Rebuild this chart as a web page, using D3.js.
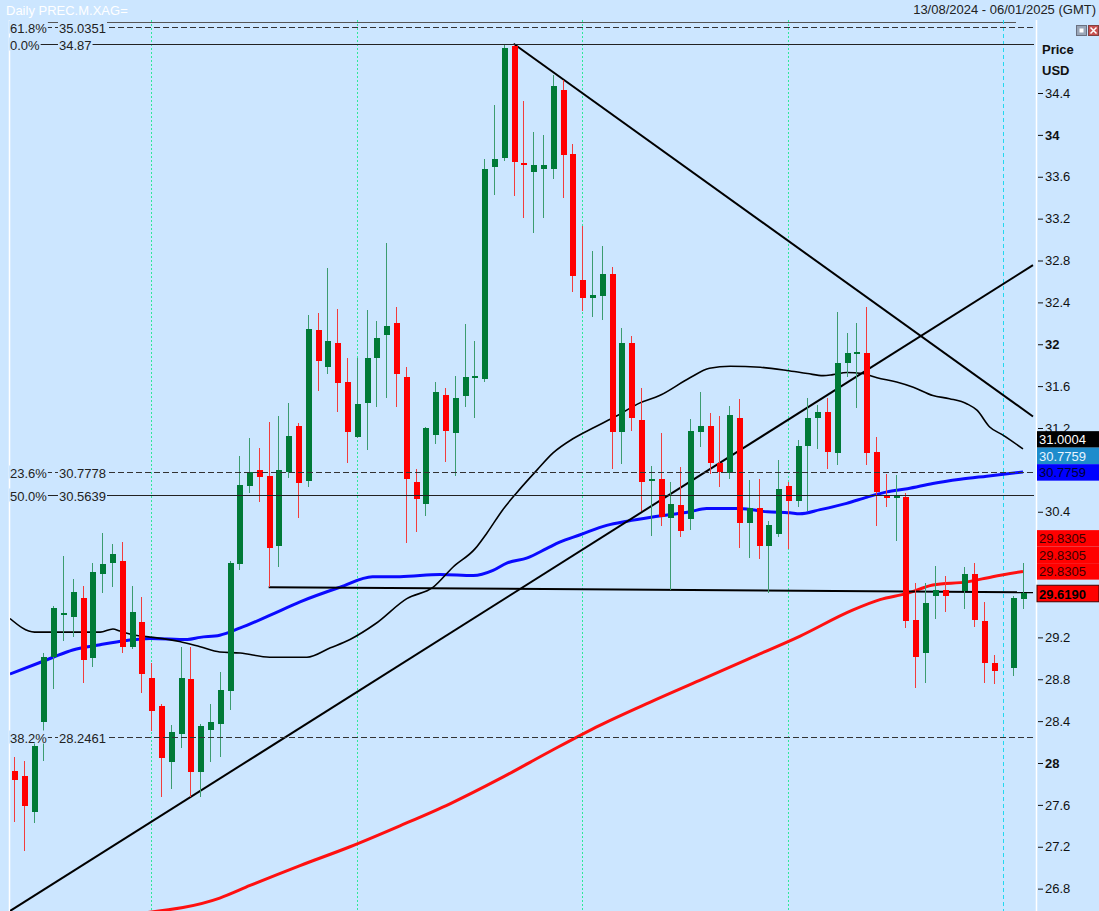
<!DOCTYPE html>
<html>
<head>
<meta charset="utf-8">
<script src="https://cdn.jsdelivr.net/npm/d3@7"></script>
<style>
  html, body { margin: 0; padding: 0; background: #cce6ff; }
  svg { display: block; font-family: "Liberation Sans", Arial, sans-serif; }
</style>
</head>
<body>
<div id="chart"></div>
<script>
// Daily silver (PREC.M.XAG=), one slot per weekday, null = no trading that day
var openPrices = [27.92, 27.88, 27.53, 28.39, 29.01, 29.41, 29.39, 29.58, 29.00, 29.81,
  29.91, 29.93, 29.11, 29.35, 28.81, 28.54, 28.01, 28.28, 28.80, 27.91,
  28.32, 28.37, 28.69, 29.90, 30.65, 30.80, 30.74, 30.07, 30.78, 31.22,
  30.69, 32.14, 31.78, 32.01, 31.64, 31.11, 31.44, 31.87, 32.09, 32.20,
  31.69, 30.68, 30.47, 31.13, 31.52, 31.15, 31.51, 31.68, 31.67, 33.69,
  33.78, 34.85, 33.73, 33.65, 33.67, 33.67, 34.43, 33.82, 32.61, 32.44,
  32.46, 32.67, 31.16, 32.01, 31.28, 30.69, 30.71, 30.34, 30.46, 30.33,
  31.16, 31.22, 30.87, 30.77, 31.30, 30.29, 30.44, 30.07, 30.19, 30.65,
  30.50, 31.03, 31.30, 31.35, 30.96, 31.82, 31.91, 31.92, 30.97, 30.55,
  30.53, 30.54, 29.37, 29.05, 29.60, 29.65, null, 29.64, 29.81, 29.36,
  28.96, null, 28.91, 29.57];
var highPrices = [28.06, 28.02, 28.22, 29.05, 29.50, 29.98, 29.76, 29.69, 29.91, 30.20,
  30.09, 30.11, 29.69, 29.59, 28.96, 28.56, 28.36, 29.11, 29.11, 28.37,
  28.56, 28.87, 29.93, 30.93, 31.10, 31.01, 31.26, 31.31, 31.44, 31.25,
  32.28, 32.30, 32.73, 32.34, 31.87, 31.87, 32.33, 32.22, 32.97, 32.36,
  31.78, 30.81, 31.21, 31.64, 31.58, 31.70, 32.19, 32.03, 33.77, 34.29,
  34.86, 34.87, 34.32, 34.03, 34.00, 34.57, 34.52, 33.91, 33.13, 32.89,
  32.94, 32.74, 32.16, 32.08, 31.58, 30.84, 31.15, 30.68, 30.83, 31.29,
  31.54, 31.34, 31.31, 31.41, 31.48, 30.70, 30.71, 30.31, 30.89, 30.68,
  31.09, 31.49, 31.42, 31.49, 32.31, 32.11, 32.20, 32.36, 31.11, 30.76,
  30.75, 30.58, 29.72, 29.72, 29.88, 29.79, null, 29.87, 29.91, 29.54,
  29.03, null, 29.60, 29.91];
var lowPrices = [27.44, 27.16, 27.43, 28.02, 28.71, 29.17, 29.20, 28.76, 28.92, 29.62,
  29.68, 29.05, 29.09, 28.67, 28.31, 27.68, 27.75, 28.14, 27.68, 27.68,
  28.01, 28.06, 28.51, 29.84, 30.58, 30.49, 29.68, 29.87, 30.72, 30.34,
  30.64, 31.55, 31.72, 31.35, 30.87, 31.10, 30.99, 31.40, 31.49, 31.40,
  30.10, 30.21, 30.36, 31.05, 30.88, 30.74, 31.40, 31.30, 31.64, 33.43,
  33.75, 33.42, 33.21, 33.06, 33.21, 33.58, 33.40, 32.50, 32.32, 32.26,
  32.23, 30.81, 30.86, 31.17, 30.41, 30.17, 30.26, 29.65, 30.16, 30.23,
  31.02, 30.76, 30.64, 30.71, 30.05, 29.96, 29.95, 29.62, 30.16, 30.04,
  30.45, 30.41, 31.00, 30.81, 30.85, 31.69, 31.39, 30.85, 30.26, 30.45,
  30.12, 29.29, 28.72, 28.76, 29.38, 29.44, null, 29.47, 29.30, 28.76,
  28.75, null, 28.83, 29.47];
var closePrices = [27.84, 27.59, 28.16, 29.01, 29.48, 29.43, 29.63, 28.98, 29.82, 29.90,
  30.00, 29.11, 29.44, 28.85, 28.50, 28.05, 28.30, 28.81, 27.91, 28.35,
  28.39, 28.70, 29.91, 30.66, 30.78, 30.73, 30.05, 30.80, 31.12, 30.67,
  32.15, 31.84, 32.03, 31.63, 31.16, 31.43, 31.87, 32.06, 32.17, 31.72,
  30.71, 30.52, 31.20, 31.54, 31.17, 31.49, 31.69, 31.70, 33.67, 33.77,
  34.83, 33.74, 33.71, 33.71, 33.71, 34.47, 33.81, 32.65, 32.44, 32.47,
  32.67, 31.16, 32.01, 31.30, 30.68, 30.71, 30.35, 30.47, 30.22, 31.17,
  31.22, 30.87, 30.78, 31.32, 30.29, 30.44, 30.07, 30.27, 30.62, 30.50,
  31.03, 31.30, 31.35, 30.97, 31.82, 31.92, 31.93, 30.96, 30.59, 30.53,
  30.55, 29.36, 29.01, 29.53, 29.65, 29.60, null, 29.81, 29.37, 28.96,
  28.88, null, 29.58, 29.62];

// moving averages, read as [slot, price]
var maBlack = [[-0.41, 29.38], [2.1, 29.25], [8.8, 29.25], [10.1, 29.28], [10.8, 29.26], [12.4, 29.22],
  [14.2, 29.20], [16.9, 29.16], [19, 29.11], [21, 29.06], [23.1, 29.05], [26.1, 29.01], [29.9, 29.01],
  [32.3, 29.10], [34.3, 29.18], [36.9, 29.33], [40.1, 29.57], [42.8, 29.68], [44.8, 29.87], [47.1, 30.05],
  [48.3, 30.20], [49.9, 30.42], [51.3, 30.58], [53.4, 30.80], [55, 30.96], [57.1, 31.10], [59.1, 31.20],
  [61.6, 31.32], [63.9, 31.44], [65.9, 31.51], [69, 31.68], [71, 31.77], [73.1, 31.79], [76.2, 31.78],
  [78.9, 31.75], [81, 31.72], [82.6, 31.70], [83.6, 31.71], [85, 31.73], [86.6, 31.72], [88.1, 31.68],
  [90.1, 31.64], [91.8, 31.59], [93.8, 31.51], [95.5, 31.48], [97.3, 31.43], [98.3, 31.37], [99.6, 31.21],
  [101, 31.13], [103, 31.00]];
var maBlue = [[-0.41, 28.85], [2.65, 28.96], [4, 29.01], [6, 29.08], [8.8, 29.13], [11.5, 29.17], [13.9, 29.19],
  [17.7, 29.18], [19, 29.20], [21, 29.22], [23.1, 29.29], [26.1, 29.41], [29.2, 29.54], [33.3, 29.68],
  [36.6, 29.78], [39.4, 29.78], [43.5, 29.80], [46.9, 29.79], [48.9, 29.84], [50.3, 29.91], [52.4, 29.96],
  [54.4, 30.05], [55.7, 30.11], [57.8, 30.18], [60.5, 30.27], [62.6, 30.31], [65.2, 30.35], [69, 30.40],
  [70.7, 30.43], [74.1, 30.43], [76.9, 30.40], [79.2, 30.39], [80.2, 30.38], [82.3, 30.42], [85, 30.48],
  [87.1, 30.54], [89.1, 30.59], [91.2, 30.62], [93.8, 30.67], [96.6, 30.71], [99.3, 30.74], [103, 30.78]];
var maRed = [[13.5, 26.57], [21, 26.71], [24.1, 26.83], [29.2, 27.02], [34.3, 27.20], [39.4, 27.40],
  [44.5, 27.61], [49.6, 27.85], [54.7, 28.11], [59.8, 28.36], [64.9, 28.58], [70, 28.79], [75.1, 29.00],
  [80.2, 29.21], [85.6, 29.46], [88.4, 29.56], [91.2, 29.62], [93.8, 29.70], [97.3, 29.73], [99.9, 29.78],
  [103, 29.83]];

// hand drawn lines, [slot, price] end points
var trendUp = [[-0.41, 26.586], [104.02, 32.756]];
var trendDown = [[51, 34.87], [104.02, 31.31]];
var supportLine = [[26, 29.68], [104.02, 29.63]];

// fibonacci levels
var fibLabels = ["61.8%", "0.0%", "23.6%", "50.0%", "38.2%"];
var fibValues = ["35.0351", "34.87", "30.7778", "30.5639", "28.2461"];

// month start slots (vertical grid)
var monthSlots = [14, 35, 58, 79, 101];

// price axis (30.8, 30 and 29.6 sit under the value boxes and are not shown)
var tickValues = [26.8, 27.2, 27.6, 28, 28.4, 28.8, 29.2, 30.4, 31.2, 31.6, 32, 32.4, 32.8, 33.2, 33.6, 34, 34.4];
var lastValues = [31.0004, 30.7759, 30.7759, 29.8305, 29.8305, 29.8305, 29.6190];

var titleText = "Daily PREC.M.XAG=";
var rangeText = "13/08/2024 - 06/01/2025 (GMT)";

// layout
var fullWidth = 1099;
var fullHeight = 911;
var plot = { left: 10, right: 1034, top: 20, bottom: 911 };
var bgColor = "#cce6ff";
var upColor = "#007a37", upWick = "#3c9c70";
var downColor = "#ff0000", downWick = "#f23c3c";

var xScale = d3.scaleLinear().domain([0, 103]).range([14, 1023]);
var yScale = d3.scaleLinear().domain([28, 34.4]).range([763, 93]);

var svg = d3.select("#chart").append("svg")
  .attr("width", fullWidth)
  .attr("height", fullHeight);

svg.append("rect").attr("width", fullWidth).attr("height", fullHeight).attr("fill", bgColor);

svg.append("defs").append("clipPath").attr("id", "plotclip")
  .append("rect")
  .attr("x", plot.left).attr("y", plot.top)
  .attr("width", plot.right - plot.left).attr("height", plot.bottom - plot.top);

// header
svg.append("text").attr("x", 6).attr("y", 15).attr("fill", "#ffffff")
  .style("font-size", "13px").text(titleText);
svg.append("text").attr("x", 1096).attr("y", 14).attr("fill", "#222")
  .attr("text-anchor", "end").style("font-size", "13px").text(rangeText);

// border lines
svg.append("line").attr("x1", plot.left - 0.5).attr("x2", plot.left - 0.5)
  .attr("y1", plot.top).attr("y2", plot.bottom).attr("stroke", "#ffffff").attr("stroke-width", 1.5);
svg.append("line").attr("x1", 1036.5).attr("x2", 1036.5)
  .attr("y1", plot.top).attr("y2", plot.bottom).attr("stroke", "#ffffff").attr("stroke-width", 1.5);
svg.append("line").attr("x1", plot.left).attr("x2", 1016)
  .attr("y1", 22.5).attr("y2", 22.5).attr("stroke", "#555").attr("stroke-width", 1);

var g = svg.append("g").attr("clip-path", "url(#plotclip)");

// vertical month grid
g.selectAll(".vgrid").data(monthSlots).enter().append("line")
  .attr("x1", function(d) { return Math.round(xScale(d)) + 0.5; })
  .attr("x2", function(d) { return Math.round(xScale(d)) + 0.5; })
  .attr("y1", plot.top).attr("y2", plot.bottom)
  .attr("stroke", function(d, i) { return i == monthSlots.length - 1 ? "#22d8f0" : "#2ee89a"; })
  .attr("stroke-width", 1)
  .attr("stroke-dasharray", function(d, i) { return i == monthSlots.length - 1 ? "4,3" : "2,2"; });

// fibonacci lines
var dashedLevels = ["61.8%", "23.6%", "38.2%"];
fibLabels.forEach(function(lab, i) {
  var y = Math.round(yScale(+fibValues[i])) + 0.5;
  var dashed = dashedLevels.indexOf(lab) >= 0;
  svg.append("line")
    .attr("x1", plot.left).attr("x2", plot.right)
    .attr("y1", y).attr("y2", y)
    .attr("stroke", dashed ? "#333" : "#222")
    .attr("stroke-width", 1)
    .attr("stroke-dasharray", dashed ? "6,3" : null);
  [[lab, 10], [fibValues[i], 59]].forEach(function(t) {
    var txt = svg.append("text").attr("x", t[1]).attr("y", y + 5)
      .attr("fill", "#222").style("font-size", "13px").text(t[0]);
    var w = txt.node().getComputedTextLength();
    svg.insert("rect", function() { return txt.node(); })
      .attr("x", t[1] - 1).attr("y", y - 7).attr("width", w + 2).attr("height", 13)
      .attr("fill", bgColor);
  });
});

// moving averages
var maLine = d3.line()
  .x(function(d) { return xScale(d[0]); })
  .y(function(d) { return yScale(d[1]); })
  .curve(d3.curveMonotoneX);

g.append("path").datum(maRed).attr("d", maLine)
  .attr("fill", "none").attr("stroke", "#ff1010").attr("stroke-width", 3);
g.append("path").datum(maBlue).attr("d", maLine)
  .attr("fill", "none").attr("stroke", "#0a0aff").attr("stroke-width", 3);
g.append("path").datum(maBlack).attr("d", maLine)
  .attr("fill", "none").attr("stroke", "#000").attr("stroke-width", 1.6);

// trend lines
var straight = d3.line()
  .x(function(d) { return xScale(d[0]); })
  .y(function(d) { return yScale(d[1]); });
[trendUp, trendDown].forEach(function(tl) {
  g.append("path").datum(tl).attr("d", straight)
    .attr("fill", "none").attr("stroke", "#000").attr("stroke-width", 2);
});
g.append("path").datum(supportLine).attr("d", straight)
  .attr("fill", "none").attr("stroke", "#000").attr("stroke-width", 2);

// candles
var candles = d3.range(openPrices.length)
  .filter(function(i) { return openPrices[i] != null; })
  .map(function(i) {
    return { i: i, o: openPrices[i], h: highPrices[i], l: lowPrices[i], c: closePrices[i] };
  });

var cg = g.append("g").attr("shape-rendering", "crispEdges");
cg.selectAll(".wick").data(candles).enter().append("line")
  .attr("x1", function(d) { return Math.round(xScale(d.i)) + 0.5; })
  .attr("x2", function(d) { return Math.round(xScale(d.i)) + 0.5; })
  .attr("y1", function(d) { return yScale(d.h); })
  .attr("y2", function(d) { return yScale(d.l); })
  .attr("stroke", function(d) { return d.c >= d.o ? upWick : downWick; })
  .attr("stroke-width", 1);

cg.selectAll(".body").data(candles).enter().append("rect")
  .attr("x", function(d) { return Math.round(xScale(d.i)) - 2.5; })
  .attr("width", 6)
  .attr("y", function(d) { return yScale(Math.max(d.o, d.c)); })
  .attr("height", function(d) { return Math.max(2, Math.abs(yScale(d.o) - yScale(d.c))); })
  .attr("fill", function(d) { return d.c >= d.o ? upColor : downColor; });

// price axis
var yAxis = d3.axisRight(yScale)
  .tickValues(tickValues)
  .tickSize(5)
  .tickPadding(2)
  .tickFormat(function(d) { return d; });

var ax = svg.append("g")
  .attr("transform", "translate(1038,0)")
  .call(yAxis);
ax.select(".domain").remove();
ax.selectAll("line").attr("stroke", "#111");
ax.selectAll("text")
  .attr("fill", "#111")
  .style("font-size", "13px")
  .style("font-family", "Liberation Sans, Arial, sans-serif")
  .style("font-weight", function(d) { return d % 1 == 0 ? "bold" : "normal"; });

svg.append("text").attr("x", 1042).attr("y", 54).attr("fill", "#111")
  .style("font-size", "13px").style("font-weight", "bold").text("Price");
svg.append("text").attr("x", 1042).attr("y", 75).attr("fill", "#111")
  .style("font-size", "13px").style("font-weight", "bold").text("USD");

// window icons
svg.append("rect").attr("x", 1076.5).attr("y", 25.5).attr("width", 10).attr("height", 10)
  .attr("fill", "#9aa6b8").attr("stroke", "#6a7080");
svg.append("rect").attr("x", 1079.5).attr("y", 28.5).attr("width", 4).attr("height", 4)
  .attr("fill", "#fff");
svg.append("rect").attr("x", 1088.5).attr("y", 25.5).attr("width", 10).attr("height", 10)
  .attr("fill", "#c85050").attr("stroke", "#804040");
svg.append("path").attr("d", "M1090.5,27.5 L1096.5,33.5 M1096.5,27.5 L1090.5,33.5")
  .attr("stroke", "#fff").attr("stroke-width", 1.5);

// last value labels on the price axis, pushed up so they do not overlap
var labelFill = ["#000000", "#1e8ccc", "#0000ff", "#ff0000", "#ff0000", "#ff0000", "#ff0000"];
var labelText = ["#ffffff", "#e8f4ff", "#000033", "#3a0000", "#3a0000", "#3a0000", "#000000"];
var boxH = 16.5;
// lowest value first; on a tie the later label sits lower
var order = d3.range(lastValues.length).sort(function(a, b) {
  return (lastValues[a] - lastValues[b]) || (b - a);
});
var centers = [];
var prev = null;
order.forEach(function(k) {
  var cy = yScale(lastValues[k]);
  if (prev != null) cy = Math.min(cy, prev - boxH);
  centers[k] = cy;
  prev = cy;
});
lastValues.forEach(function(v, k) {
  var last = k == lastValues.length - 1;
  svg.append("rect")
    .attr("x", 1037).attr("y", centers[k] - boxH / 2)
    .attr("width", 62).attr("height", boxH)
    .attr("fill", labelFill[k])
    .attr("stroke", last ? "#400" : "none").attr("stroke-width", last ? 1 : 0);
  svg.append("text")
    .attr("x", 1039).attr("y", centers[k] + 5)
    .attr("fill", labelText[k])
    .style("font-size", "13px")
    .style("font-weight", last ? "bold" : "normal")
    .text(d3.format(".4f")(v));
});
</script>
</body>
</html>
